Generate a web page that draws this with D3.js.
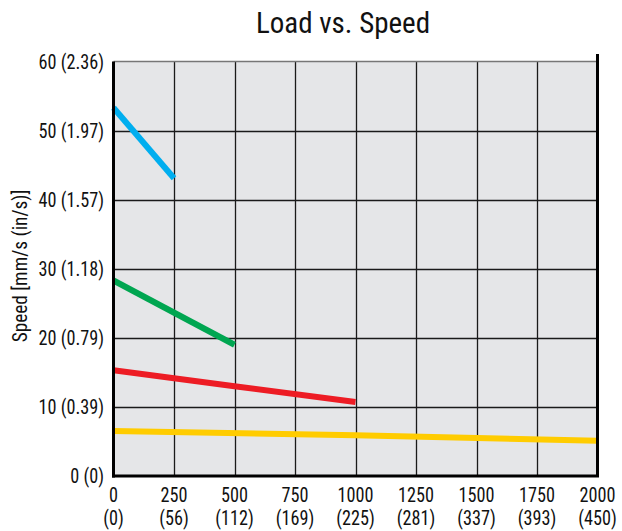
<!DOCTYPE html>
<html><head><meta charset="utf-8">
<script src="https://cdn.jsdelivr.net/npm/d3@7"></script>
<style>
body{margin:0;background:#fff;}
text{font-family:"Liberation Sans Narrow","Roboto Condensed","Arial Narrow",sans-serif;fill:#111;}
</style></head><body>
<svg id="c" width="622" height="531"></svg>
<script>
const xTicks = [0,250,500,750,1000,1250,1500,1750,2000];
const xTickSub = ["(0)","(56)","(112)","(169)","(225)","(281)","(337)","(393)","(450)"];
const yTicks = [0,10,20,30,40,50,60];
const yTickLabels = ["0 (0)","10 (0.39)","20 (0.79)","30 (1.18)","40 (1.57)","50 (1.97)","60 (2.36)"];
const blueX = [0,250], blueY = [53.3,43.1];
const greenX = [0,500], greenY = [28.3,19.0];
const redX = [0,500,1000], redY = [15.3,13.0,10.7];
const yellowX = [0,1000,2000], yellowY = [6.5,5.9,5.1];
const seriesColors = ["#00aeef","#00a651","#ed1c24","#ffcc00"];

const svg = d3.select("#c");
const L=113.5, R=597.5, T=61.5, B=476;
const x = d3.scaleLinear().domain([0,2000]).range([L,R]);
const y = d3.scaleLinear().domain([0,60]).range([B,T]);

svg.append("rect").attr("x",L).attr("y",T).attr("width",R-L).attr("height",B-T).attr("fill","#e5e6e8");
// grid
svg.append("g").selectAll("line").data(xTicks.slice(1,-1)).join("line")
  .attr("x1",d=>Math.round(x(d))+0.5).attr("x2",d=>Math.round(x(d))+0.5).attr("y1",T).attr("y2",B)
  .attr("stroke","#1a1a1a").attr("stroke-width",1.3);
svg.append("g").selectAll("line").data(yTicks.slice(1,-1)).join("line")
  .attr("y1",d=>Math.round(y(d))+0.5).attr("y2",d=>Math.round(y(d))+0.5).attr("x1",L).attr("x2",R)
  .attr("stroke","#1a1a1a").attr("stroke-width",1.3);
svg.append("line").attr("x1",L).attr("x2",R).attr("y1",T).attr("y2",T).attr("stroke","#777").attr("stroke-width",1.5);

const line = d3.line().x(d=>x(d[0])).y(d=>y(d[1]));
const series = [[blueX,blueY],[greenX,greenY],[redX,redY],[yellowX,yellowY]];
series.forEach((s,i)=>{
  const pts = s[0].map((v,j)=>[v,s[1][j]]);
  svg.append("path").attr("d",line(pts)).attr("fill","none").attr("stroke",seriesColors[i]).attr("stroke-width",6);
});

// frame
svg.append("line").attr("x1",L).attr("x2",L).attr("y1",T).attr("y2",B+1.5).attr("stroke","#000").attr("stroke-width",3);
svg.append("line").attr("x1",L-1.5).attr("x2",R+1.5).attr("y1",B).attr("y2",B).attr("stroke","#000").attr("stroke-width",3);
svg.append("line").attr("x1",R).attr("x2",R).attr("y1",54).attr("y2",B).attr("stroke","#000").attr("stroke-width",3);

// axis labels
const fs = 20, sx = 0.91;
svg.append("g").selectAll("text").data(yTicks).join("text")
  .attr("transform",d=>`translate(104,${y(d)+7}) scale(${sx},1)`).attr("text-anchor","end").attr("font-size",fs)
  .text((d,i)=>yTickLabels[i]);
const xl = svg.append("g");
xl.selectAll("text.a").data(xTicks).join("text").attr("class","a")
  .attr("transform",d=>`translate(${x(d)},502) scale(${sx},1)`).attr("text-anchor","middle").attr("font-size",fs).text(d=>d);
xl.selectAll("text.b").data(xTicks).join("text").attr("class","b")
  .attr("transform",d=>`translate(${x(d)},524.5) scale(${sx},1)`).attr("text-anchor","middle").attr("font-size",fs).text((d,i)=>xTickSub[i]);

svg.append("text").attr("transform","translate(27,266) rotate(-90) scale(0.92,1)").attr("text-anchor","middle")
  .attr("font-size",21).text("Speed [mm/s (in/s)]");
svg.append("text").attr("x",343).attr("y",33).attr("text-anchor","middle").attr("font-size",29).text("Load vs. Speed");
</script></body></html>
